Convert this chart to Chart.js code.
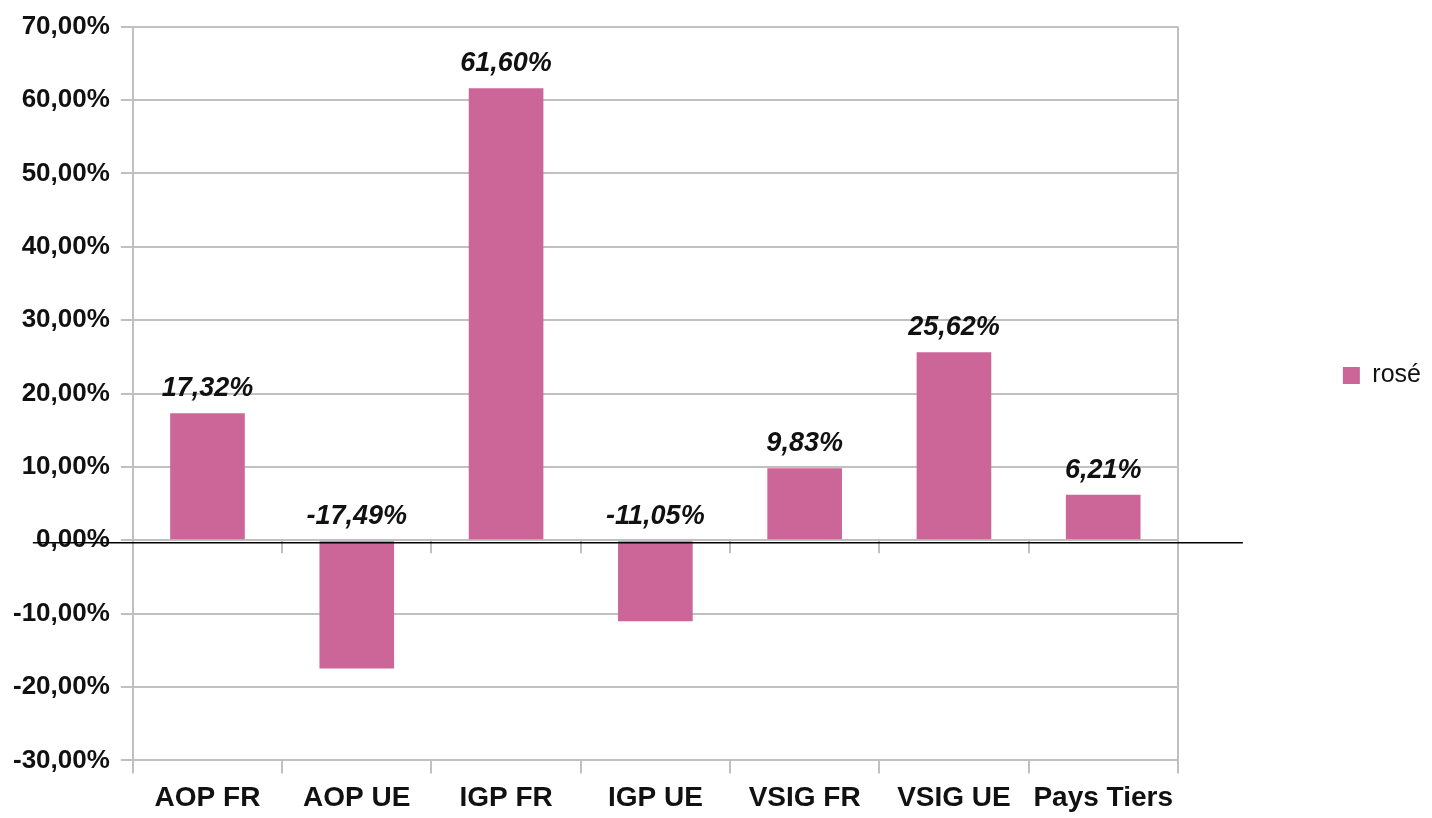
<!DOCTYPE html>
<html>
<head>
<meta charset="utf-8">
<script src="https://cdn.jsdelivr.net/npm/chart.js@4"></script>
<style>
    html, body { margin: 0; padding: 0; background: #fff; }
    #wrap { width: 1432px; height: 818px; }
</style>
</head>
<body>
<div id="wrap"><canvas id="grafico"></canvas></div>
<script>
//===============================================================
// ========================== DADOS =============================
//===============================================================
const categories = ["AOP FR", "AOP UE", "IGP FR", "IGP UE", "VSIG FR", "VSIG UE", "Pays Tiers"];
const seriesName = "rosé";
const values = [17.32, -17.49, 61.60, -11.05, 9.83, 25.62, 6.21];
const yTicks = [-30, -20, -10, 0, 10, 20, 30, 40, 50, 60, 70];

const corBarra = "#cc6699";
const corGrade = "#c0c0c0";
const corTexto = "#111111";
const fonte = "'Liberation Sans', Arial, sans-serif";

function formatPct(v) {
    return v.toFixed(2).replace(".", ",") + "%";
}

//===============================================================
// ========================= PLUGINS ============================
//===============================================================
// rotulos sobre as barras + linha preta do zero + tracinhos no eixo 0
const extrasPlugin = {
    id: "extras",
    afterDatasetsDraw(chart) {
        const {ctx, chartArea, scales: {x, y}} = chart;
        const y0 = y.getPixelForValue(0);

        ctx.save();
        // tracinhos abaixo da linha 0
        ctx.strokeStyle = corGrade;
        ctx.lineWidth = 2;
        for (let i = 0; i < categories.length - 1; i++) {
            const px = Math.round(x.getPixelForValue(i + 0.5));
            ctx.beginPath();
            ctx.moveTo(px, y0);
            ctx.lineTo(px, y0 + 13);
            ctx.stroke();
        }

        // linha do zero
        ctx.strokeStyle = "#000";
        ctx.lineWidth = 1.5;
        ctx.beginPath();
        ctx.moveTo(chartArea.left - 100, y0 + 2.5);
        ctx.lineTo(chartArea.right + 65, y0 + 2.5);
        ctx.stroke();

        // valores
        const meta = chart.getDatasetMeta(0);
        ctx.fillStyle = corTexto;
        ctx.font = "italic bold 27px " + fonte;
        ctx.textAlign = "center";
        ctx.textBaseline = "alphabetic";
        meta.data.forEach((bar, i) => {
            const topo = Math.min(bar.y, bar.base);
            ctx.fillText(formatPct(values[i]), bar.x, topo - 17);
        });
        ctx.restore();
    }
};

//===============================================================
// ========================= GRAFICO ============================
//===============================================================
const ctx = document.getElementById("grafico");

new Chart(ctx, {
    type: "bar",
    data: {
        labels: categories,
        datasets: [{
            label: seriesName,
            data: values,
            backgroundColor: corBarra,
            borderWidth: 0,
            barPercentage: 0.5,
            categoryPercentage: 1
        }]
    },
    options: {
        responsive: true,
        maintainAspectRatio: false,
        animation: false,
        layout: {
            padding: {top: 9, left: 2, right: 1, bottom: -5}
        },
        scales: {
            x: {
                offset: true,
                border: {display: false},
                grid: {
                    offset: true,
                    drawOnChartArea: true,
                    color: c => (c.index === 0 || c.index === undefined) ? corGrade : "rgba(0,0,0,0)",
                    tickColor: corGrade,
                    lineWidth: 2,
                    tickLength: 13
                },
                ticks: {
                    color: corTexto,
                    padding: 8,
                    font: {family: fonte, size: 28, weight: "bold"}
                }
            },
            y: {
                min: -30,
                max: 70,
                afterBuildTicks: scale => {
                    scale.ticks = yTicks.map(v => ({value: v}));
                },
                border: {display: false},
                grid: {
                    color: corGrade,
                    lineWidth: 2,
                    tickLength: 12
                },
                ticks: {
                    color: corTexto,
                    padding: 11,
                    font: {family: fonte, size: 26, weight: "bold"},
                    callback: v => formatPct(v)
                }
            }
        },
        plugins: {
            tooltip: {enabled: false},
            legend: {
                position: "right",
                align: "start",
                fullSize: false,
                title: {
                    display: true,
                    text: "",
                    padding: {top: 157, bottom: 0}
                },
                labels: {
                    boxWidth: 17,
                    boxHeight: 17,
                    padding: 165,
                    color: corTexto,
                    font: {family: fonte, size: 25}
                }
            }
        }
    },
    plugins: [extrasPlugin]
});
</script>
</body>
</html>
